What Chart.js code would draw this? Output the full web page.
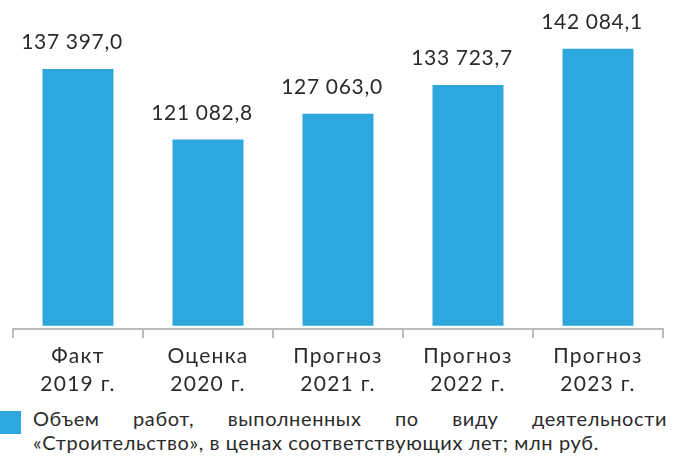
<!DOCTYPE html>
<html>
<head>
<meta charset="utf-8">
<script src="https://cdn.jsdelivr.net/npm/chart.js@4"></script>
<style>
  html, body { margin: 0; padding: 0; background: #fff; }
  body { width: 673px; height: 457px; position: relative; overflow: hidden; font-family: "Lato", "Open Sans", sans-serif; color: #2b2b2b; }
  #wrap { position: absolute; left: 0; top: 0; width: 673px; height: 400px; }
  #legendBox { position: absolute; left: 0; top: 411px; width: 21px; height: 23px; background: #2ea7de; }
  #legendText { position: absolute; left: 33px; top: 406px; width: 634px; font-size: 20px; line-height: 24px; letter-spacing: 0.6px; }
  #legendText .l1 { text-align: justify; text-align-last: justify; }
  #legendText .l2 { white-space: nowrap; }
</style>
</head>
<body>
<div id="wrap"><canvas id="c"></canvas></div>
<div id="legendBox"></div>
<div id="legendText">
  <div class="l1" id="l1"></div>
  <div class="l2" id="l2"></div>
</div>
<script>
const categories = [["Факт", "2019 г."], ["Оценка", "2020 г."], ["Прогноз", "2021 г."], ["Прогноз", "2022 г."], ["Прогноз", "2023 г."]];
const values = [137397.0, 121082.8, 127063.0, 133723.7, 142084.1];
const seriesName = "Объем работ, выполненных по виду деятельности «Строительство», в ценах соответствующих лет; млн руб.";
const legendLine1 = ["Объем", "работ,", "выполненных", "по", "виду", "деятельности"];
const legendLine2 = "«Строительство», в ценах соответствующих лет; млн руб.";
const barBase = 78025;
const axisMin = 77262;
const axisMax = 148740;

document.getElementById('l1').textContent = legendLine1.join(' ');
document.getElementById('l2').textContent = legendLine2;

function fmt(v) {
  const parts = v.toFixed(1).split('.');
  const int = parts[0].replace(/\B(?=(\d{3})+(?!\d))/g, ' ');
  return int + ',' + parts[1];
}

const FONT = '"Lato", "Open Sans", sans-serif';
const TEXT = '#2b2b2b';
const BAR = '#2ea7de';
const GRID = '#bdbdbd';

const spacing = {
  id: 'spacing',
  beforeDraw(chart) { chart.ctx.letterSpacing = '1.3px'; },
  afterDraw(chart) { chart.ctx.letterSpacing = '0px'; }
};

const valueLabels = {
  id: 'valueLabels',
  afterDatasetsDraw(chart) {
    const ctx = chart.ctx;
    const meta = chart.getDatasetMeta(0);
    ctx.save();
    ctx.letterSpacing = '0.7px';
    ctx.font = '21px ' + FONT;
    ctx.fillStyle = TEXT;
    ctx.textAlign = 'center';
    ctx.textBaseline = 'alphabetic';
    meta.data.forEach((bar, i) => {
      ctx.fillText(fmt(chart.data.datasets[0].data[i]), bar.x - 6, bar.y - 20);
    });
    ctx.restore();
  }
};

new Chart(document.getElementById('c'), {
  type: 'bar',
  data: {
    labels: categories,
    datasets: [{
      label: seriesName,
      data: values,
      base: barBase,
      backgroundColor: BAR,
      borderWidth: 0,
      categoryPercentage: 1.0,
      barPercentage: 0.546
    }]
  },
  options: {
    responsive: true,
    maintainAspectRatio: false,
    animation: false,
    layout: { padding: { left: 13, right: 10, top: 20, bottom: 0 } },
    plugins: { legend: { display: false }, tooltip: { enabled: false } },
    scales: {
      y: { display: false, min: axisMin, max: axisMax },
      x: {
        offset: true,
        grid: { display: true, offset: true, drawOnChartArea: false, color: GRID, lineWidth: 2, tickLength: 9, tickWidth: 2, tickColor: GRID },
        border: { display: true, color: GRID, width: 2 },
        ticks: { color: TEXT, font: { family: FONT, size: 21, lineHeight: 1.35 }, padding: 4, maxRotation: 0, autoSkip: false },
        afterFit(scale) { scale.height = 71; }
      }
    }
  },
  plugins: [spacing, valueLabels]
});
</script>
</body>
</html>
